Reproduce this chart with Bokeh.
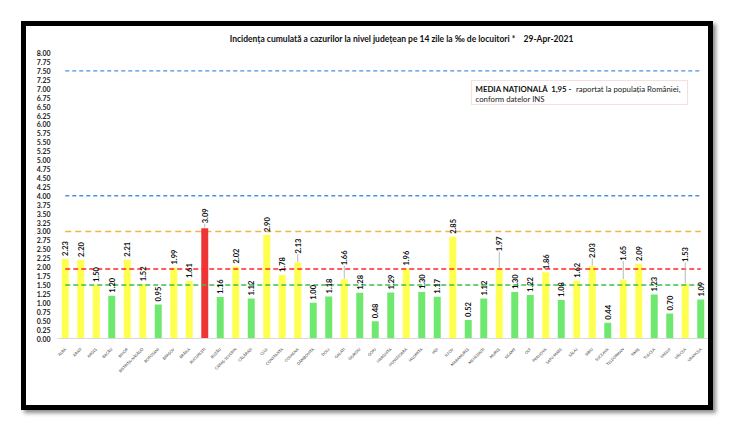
import math
from bokeh.plotting import figure
from bokeh.models import (FactorRange, Range1d, FixedTicker,
                          NumeralTickFormatter, BoxAnnotation, Label,
                          ColumnDataSource)
from bokeh.embed import file_html
from bokeh.resources import INLINE
from bokeh.core.properties import value

# ---------------- data ----------------
counties = ["ALBA", "ARAD", "ARGEȘ", "BACĂU", "BIHOR", "BISTRIȚA-NĂSĂUD",
            "BOTOȘANI", "BRAȘOV", "BRĂILA", "BUCUREȘTI", "BUZĂU",
            "CARAȘ-SEVERIN", "CĂLĂRAȘI", "CLUJ", "CONSTANȚA", "COVASNA",
            "DÂMBOVIȚA", "DOLJ", "GALAȚI", "GIURGIU", "GORJ", "HARGHITA",
            "HUNEDOARA", "IALOMIȚA", "IAȘI", "ILFOV", "MARAMUREȘ",
            "MEHEDINȚI", "MUREȘ", "NEAMȚ", "OLT", "PRAHOVA", "SATU MARE",
            "SĂLAJ", "SIBIU", "SUCEAVA", "TELEORMAN", "TIMIȘ", "TULCEA",
            "VASLUI", "VÂLCEA", "VRANCEA"]
incidence = [2.23, 2.20, 1.50, 1.20, 2.21, 1.52, 0.95, 1.99, 1.61, 3.09,
             1.16, 2.02, 1.12, 2.90, 1.78, 2.13, 1.00, 1.18, 1.66, 1.28,
             0.48, 1.29, 1.96, 1.30, 1.17, 2.85, 0.52, 1.12, 1.97, 1.30,
             1.22, 1.86, 1.08, 1.62, 2.03, 0.44, 1.65, 2.09, 1.23, 0.70,
             1.53, 1.09]
y_ticks = [i * 0.25 for i in range(33)]          # 0.00 ... 8.00
national_mean = 1.95
threshold_green = 1.5
threshold_orange = 3.0
threshold_blue = [4.0, 7.5]
title_text = "Incidența cumulată a cazurilor la nivel județean pe 14 zile la ‰ de locuitori *"
date_text = "29-Apr-2021"

# ---------------- style ----------------
YELLOW = "#FFFF50"
GREEN = "#6FE86F"
RED = "#EE3535"
FONT = "Lato"
NB = "\u00a0"

# labels pushed higher (px) with a leader line
label_lift = {"BUCUREȘTI": 2, "COVASNA": 6, "GALAȚI": 11, "MUREȘ": 14,
              "SIBIU": 5, "TELEORMAN": 16, "VÂLCEA": 19}

BORDER = 5
W, H = 682 + 2 * BORDER, 379 + 2 * BORDER
MB_L, MB_R, MB_B = 31, 2 * BORDER, 67 + 2 * BORDER
PLOT_H = 312                      # px from canvas top to the zero line
ppu = (312 - 23) / 8.1            # px per unit on the value axis
Y_END = 312 / ppu

def bar_color(v):
    if v > threshold_orange:
        return RED
    if v < threshold_green:
        return GREEN
    return YELLOW

lifts = [label_lift.get(c, 0) for c in counties]
src = ColumnDataSource(dict(
    x=counties, v=incidence,
    color=[bar_color(v) for v in incidence],
    lbl=[f"{v:.2f}" for v in incidence],
    yoff=[-(3 + l) for l in lifts],
))

p = figure(x_range=FactorRange(*counties, range_padding=0),
           y_range=Range1d(0, Y_END),
           width=W, height=H, output_backend="svg", toolbar_location=None,
           min_border_left=MB_L, min_border_right=MB_R,
           min_border_top=0, min_border_bottom=MB_B)
p.margin = (21, 0, 0, 21)
p.styles = {"border": f"{BORDER}px solid #000",
            "box-shadow": "3px 3px 4px rgba(0,0,0,0.45)"}
p.outline_line_color = None
p.xgrid.grid_line_color = None
p.ygrid.grid_line_color = None
p.background_fill_color = "white"
p.border_fill_color = "white"

# title as a label at the top of the frame
p.add_layout(Label(x=22.2, y=Y_END - 12 / ppu,
                   text=title_text + NB * 4 + date_text,
                   text_font=FONT, text_font_style="bold", text_font_size="8.5px",
                   text_align="center", text_baseline="middle",
                   text_color="#111111"))

# axes
p.yaxis.ticker = FixedTicker(ticks=y_ticks)
p.yaxis.formatter = NumeralTickFormatter(format="0.00")
p.yaxis.axis_line_color = None
p.yaxis.major_tick_line_color = None
p.yaxis.minor_tick_line_color = None
p.yaxis.major_label_standoff = 1
p.yaxis.major_label_text_font = FONT
p.yaxis.major_label_text_font_style = "bold"
p.yaxis.major_label_text_font_size = "7px"
p.yaxis.major_label_text_color = "#222222"

p.xaxis.axis_line_color = "#D9D9D9"
p.xaxis.major_tick_line_color = None
p.xaxis.minor_tick_line_color = None
p.xaxis.major_label_orientation = math.pi / 4
p.xaxis.major_label_standoff = 4
p.xaxis.major_label_text_font = FONT
p.xaxis.major_label_text_font_size = "3.8px"
p.xaxis.major_label_text_color = "#333333"

# reference lines
def hline(yv, color, dash, width=1.4):
    p.segment(x0=[counties[0]], x1=[counties[-1]], y0=[yv], y1=[yv],
              line_color=color, line_dash=dash, line_width=width)

for b in threshold_blue:
    hline(b, "#4A93DC", "4 3")
hline(threshold_orange, "#F2B24A", "6 4")

p.vbar(x="x", top="v", width=0.45, fill_color="color", line_color=None, source=src)

hline(national_mean, "#FF2A2A", "5 3")
hline(threshold_green, "#3DBF4A", "5 3")

# leader lines
lx = [c for c, l in zip(counties, lifts) if l > 0]
ly0 = [v + 0.5 / ppu for v, l in zip(incidence, lifts) if l > 0]
ly1 = [v + (2.5 + l) / ppu for v, l in zip(incidence, lifts) if l > 0]
p.segment(x0=lx, x1=lx, y0=ly0, y1=ly1, line_color="#A6A6A6", line_width=0.8)

p.text(x="x", y="v", text="lbl", source=src, angle=math.pi / 2,
       y_offset="yoff", text_align="left", text_baseline="middle",
       text_font=value(FONT), text_font_style="bold",
       text_font_size="7.5px", text_color="#111111")

# national mean note box
p.add_layout(BoxAnnotation(left=26.7, right=40.65, top=7.23, bottom=6.56,
                           fill_color="white", fill_alpha=1,
                           line_color="#E88F8F", line_width=1))
mean_txt = f"{national_mean:.2f}".replace(".", ",")
p.add_layout(Label(x=26.97, y=7.0, text=f"MEDIA NAȚIONALĂ{NB}{NB}{mean_txt}{NB}-",
                   text_font=FONT, text_font_style="bold", text_font_size="7.8px",
                   text_baseline="middle", text_color="#111111"))
p.add_layout(Label(x=33.45, y=7.0, text="raportat la populația României,",
                   text_font=FONT, text_font_size="7.8px",
                   text_baseline="middle", text_color="#222222"))
p.add_layout(Label(x=26.97, y=6.72, text="conform datelor INS",
                   text_font=FONT, text_font_size="7.8px",
                   text_baseline="middle", text_color="#222222"))

open("out.html", "w").write(file_html(p, INLINE))
